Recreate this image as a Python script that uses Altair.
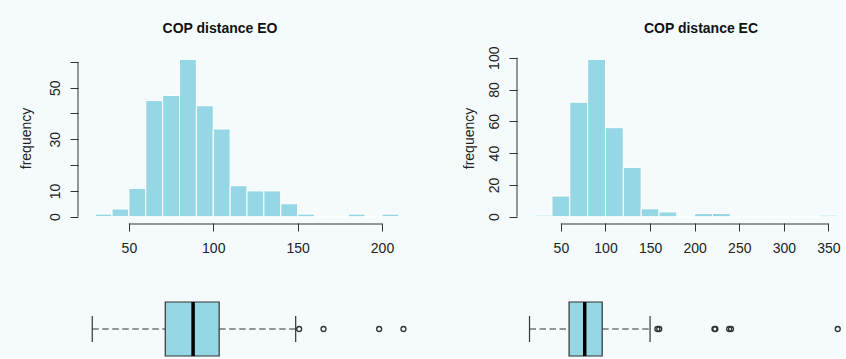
import altair as alt
import pandas as pd

# ---------------- data ----------------
# COP distance EO histogram (bin width 10)
eo_bin_start = [30, 40, 50, 60, 70, 80, 90, 100, 110, 120, 130, 140, 150, 160, 170, 180, 190, 200]
eo_counts = [1, 3, 11, 45, 47, 61, 43, 34, 12, 10, 10, 5, 1, 0, 0, 1, 0, 1]
eo_bin_width = 10
eo_x_ticks = [50, 100, 150, 200]
eo_y_ticks = [0, 10, 20, 30, 40, 50, 60]
eo_y_labels_shown = [0, 10, 30, 50]
# EO boxplot
eo_box = {"lo": 31, "q1": 73, "med": 89, "q3": 104, "hi": 148}
eo_outliers = [150, 164, 196, 210]

# COP distance EC histogram (bin width 20)
ec_bin_start = [20, 40, 60, 80, 100, 120, 140, 160, 180, 200, 220, 240, 260, 280, 300, 320, 340]
ec_counts = [1, 13, 72, 99, 56, 31, 5, 3, 0, 2, 2, 0, 0, 0, 0, 0, 1]
ec_bin_width = 20
ec_x_ticks = [50, 100, 150, 200, 250, 300, 350]
ec_y_ticks = [0, 20, 40, 60, 80, 100]
ec_y_labels_shown = [0, 20, 40, 60, 80, 100]
# EC boxplot
ec_box = {"lo": 20, "q1": 63, "med": 80, "q3": 99, "hi": 151}
ec_outliers = [159, 161, 221, 222, 237, 239, 355]

# ---------------- styling ----------------
BAR = "#95d7e5"
AX = "#333333"
BG = "#f5fbfd"
FONT = "Liberation Sans"
H = 170       # histogram plot height
HB = 68       # boxplot view height
LEFT_MARGIN = 78
TOP_MARGIN = 53


def panel(starts, counts, bw, xdom, width, ydom, yticks, yshown, xticks,
          box, outliers, title, title_x, ytitle_x, spacer=False):
    xs = alt.Scale(domain=xdom, nice=False, zero=False)
    ys = alt.Scale(domain=ydom, nice=False, zero=False)
    shown = ",".join(str(v) for v in yshown)
    x_axis = alt.Axis(
        values=xticks, title=None, domain=False, grid=False,
        tickSize=8, tickColor=AX, tickWidth=1, labelFlush=False,
        labelOverlap=False, labelPadding=21, labelBaseline="alphabetic",
        labelFont=FONT, labelFontSize=14, labelColor="#222")
    y_axis = alt.Axis(
        values=yticks, domain=False, grid=False,
        tickSize=8, tickColor=AX, tickWidth=1,
        labelAngle=270, labelAlign="center", labelBaseline="alphabetic",
        labelPadding=11, labelFlush=False, labelOverlap=False,
        labelExpr="indexof([" + shown + "], datum.value) >= 0 ? datum.label : ''",
        labelFont=FONT, labelFontSize=14, labelColor="#222",
        title="frequency", titleAngle=270, titleAlign="center",
        titleBaseline="alphabetic", titleX=ytitle_x, titleY=H / 2,
        titleFont=FONT, titleFontSize=14, titleFontWeight="normal",
        titleColor="#222")

    df = pd.DataFrame({"start": starts,
                       "end": [s + bw for s in starts],
                       "count": counts})
    bars = alt.Chart(df).mark_bar(color=BAR, stroke="white", strokeWidth=1,
                                  orient="vertical").encode(
        x=alt.X("start:Q", scale=xs, axis=x_axis),
        x2="end:Q",
        y=alt.Y("count:Q", scale=ys, axis=y_axis),
        y2=alt.datum(0),
    )
    xline = alt.Chart(pd.DataFrame({"a": [xticks[0]], "b": [xticks[-1]]})).mark_rule(
        color=AX, strokeWidth=1).encode(
        x=alt.X("a:Q", scale=xs, axis=x_axis), x2="b:Q", y=alt.value(H + 1))
    yline = alt.Chart(pd.DataFrame({"a": [yticks[0]], "b": [yticks[-1]]})).mark_rule(
        color=AX, strokeWidth=1).encode(
        y=alt.Y("a:Q", scale=ys, axis=y_axis), y2="b:Q", x=alt.value(0))
    ttl = alt.Chart().mark_text(text=title, font=FONT, fontSize=14, fontWeight="bold",
                                color="#111", align="center",
                                baseline="alphabetic").encode(
        x=alt.value(title_x), y=alt.value(-20))
    layers = [bars, xline, yline, ttl]
    if spacer:
        # invisible layout anchor that fixes the page margins
        layers.append(alt.Chart().mark_rect(opacity=0).encode(
            x=alt.value(-LEFT_MARGIN), x2=alt.value(0),
            y=alt.value(-TOP_MARGIN), y2=alt.value(0)))
    hist = alt.layer(*layers).properties(width=width, height=H)

    bdf = pd.DataFrame({k: [v] for k, v in box.items()})
    base = alt.Chart(bdf)
    wl = base.mark_rule(color=AX, strokeDash=[6.5, 3.5], strokeWidth=1).encode(
        x=alt.X("lo:Q", scale=xs, axis=None), x2="q1:Q", y=alt.value(40))
    wh = base.mark_rule(color=AX, strokeDash=[6.5, 3.5], strokeWidth=1).encode(
        x=alt.X("q3:Q", scale=xs, axis=None), x2="hi:Q", y=alt.value(40))
    cl = base.mark_rule(color=AX, strokeWidth=1.2).encode(
        x=alt.X("lo:Q", scale=xs, axis=None), y=alt.value(27), y2=alt.value(53))
    ch = base.mark_rule(color=AX, strokeWidth=1.2).encode(
        x=alt.X("hi:Q", scale=xs, axis=None), y=alt.value(27), y2=alt.value(53))
    rect = base.mark_rect(fill=BAR, stroke=AX, strokeWidth=1.2).encode(
        x=alt.X("q1:Q", scale=xs, axis=None), x2="q3:Q",
        y=alt.value(13), y2=alt.value(67))
    med = base.mark_rule(color="black", strokeWidth=3.5).encode(
        x=alt.X("med:Q", scale=xs, axis=None), y=alt.value(13), y2=alt.value(67))
    odf = pd.DataFrame({"v": outliers})
    outs = alt.Chart(odf).mark_point(shape="circle", filled=False, size=24,
                                     strokeWidth=1.4, color=AX, opacity=1).encode(
        x=alt.X("v:Q", scale=xs, axis=None), y=alt.value(40))
    boxc = alt.layer(wl, wh, cl, ch, rect, med, outs).properties(width=width, height=HB)
    return hist, boxc


hist_l, box_l = panel(eo_bin_start, eo_counts, eo_bin_width, [22.8, 217.2], 338,
                      [-2.44, 63.44], eo_y_ticks, eo_y_labels_shown, eo_x_ticks,
                      eo_box, eo_outliers, "COP distance EO", 142, -48, spacer=True)
hist_r, box_r = panel(ec_bin_start, ec_counts, ec_bin_width, [6.4, 360.7], 326,
                      [-3.96, 102.96], ec_y_ticks, ec_y_labels_shown, ec_x_ticks,
                      ec_box, ec_outliers, "COP distance EC", 184, -44)

chart = alt.concat(hist_l, hist_r, box_l, box_r, columns=2, bounds="flush",
                   align="each",
                   spacing=alt.RowColnumber(row=66, column=101)).properties(
    padding={"left": 0, "top": 0, "right": 0, "bottom": 0},
    background=BG,
).configure_view(strokeWidth=0)

chart.save("out.html", embed_options={"renderer": "svg", "actions": False})
